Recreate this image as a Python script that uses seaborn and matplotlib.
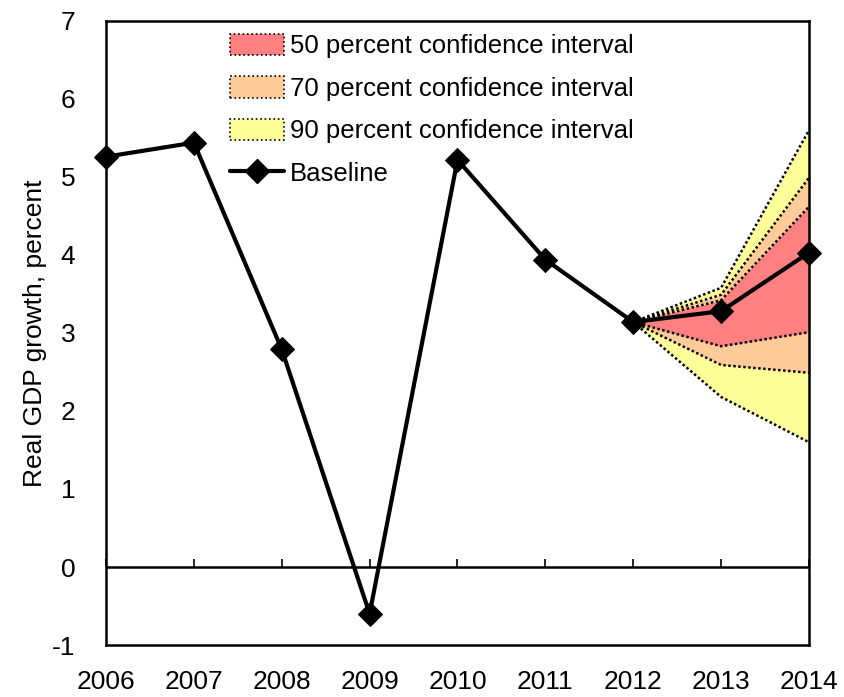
import matplotlib
matplotlib.use("Agg")
import matplotlib.pyplot as plt
from matplotlib.patches import Patch
from matplotlib.lines import Line2D
import seaborn as sns
import pandas as pd

# Baseline real GDP growth, percent
years = [2006, 2007, 2008, 2009, 2010, 2011, 2012, 2013, 2014]
baseline = [5.26, 5.44, 2.79, -0.60, 5.22, 3.94, 3.14, 3.28, 4.03]

# Forecast fan (starts from the 2012 outturn)
fan_years = [2012, 2013, 2014]
upper_90 = [3.14, 3.58, 5.60]
upper_70 = [3.14, 3.49, 4.99]
upper_50 = [3.14, 3.42, 4.62]
lower_50 = [3.14, 2.83, 3.01]
lower_70 = [3.14, 2.59, 2.49]
lower_90 = [3.14, 2.18, 1.60]

band_labels = ["50 percent confidence interval",
               "70 percent confidence interval",
               "90 percent confidence interval"]
band_colors = ["#FF8080", "#FFCC99", "#FFFF99"]

sns.set_style("white")
plt.rcParams["font.family"] = ["Liberation Sans", "DejaVu Sans"]
plt.rcParams["text.color"] = "black"
plt.rcParams["axes.labelcolor"] = "black"
plt.rcParams["xtick.color"] = "black"
plt.rcParams["ytick.color"] = "black"
plt.rcParams["axes.unicode_minus"] = False

df = pd.DataFrame({"year": years, "growth": baseline})
fan = pd.DataFrame({"year": fan_years,
                    "u90": upper_90, "u70": upper_70, "u50": upper_50,
                    "l50": lower_50, "l70": lower_70, "l90": lower_90})

fig = plt.figure(figsize=(8.44, 6.97), dpi=100)
ax = fig.add_axes([0.1256, 0.0746, 0.8329, 0.8953])

# Nested bands: widest first
for lo, hi, col in [("l90", "u90", band_colors[2]),
                    ("l70", "u70", band_colors[1]),
                    ("l50", "u50", band_colors[0])]:
    ax.fill_between(fan["year"], fan[lo], fan[hi], color=col, lw=0, zorder=1)

for col in ["u90", "u70", "u50", "l50", "l70", "l90"]:
    sns.lineplot(data=fan, x="year", y=col, ax=ax, color="black",
                 lw=1.8, ls=(0, (1, 1)), zorder=2)

ax.axhline(0, color="black", lw=1.8, zorder=2)

sns.lineplot(data=df, x="year", y="growth", ax=ax, color="black", lw=3.0,
             marker="D", markersize=12, markeredgecolor="black",
             markerfacecolor="black", zorder=3, clip_on=False)

ax.set_xlim(2006, 2014)
ax.set_ylim(-1, 7)
ax.set_xticks(years)
ax.set_xticklabels([str(y) for y in years])
ax.set_yticks(range(-1, 8))
ax.set_xlabel("")
ax.set_ylabel("Real GDP growth, percent", fontsize=19, labelpad=4)

for s in ax.spines.values():
    s.set_visible(True)
    s.set_color("black")
    s.set_linewidth(1.8)

ax.tick_params(axis="x", length=0, pad=18, labelsize=19)
ax.tick_params(axis="y", direction="in", length=7, width=1.2, pad=22, labelsize=19)

# Year tick marks sit on the zero line
sec = ax.secondary_xaxis(1 / 8)
sec.set_xticks(years)
sec.tick_params(axis="x", direction="in", length=6, width=1.2, labelbottom=False)
sec.spines["bottom"].set_visible(False)
sec.set_xticklabels([])

handles = [Patch(facecolor=c, edgecolor="black", linestyle=":", linewidth=1.2)
           for c in band_colors]
handles.append(Line2D([0], [0], color="black", lw=3.0, marker="D", markersize=12))
labels = band_labels + ["Baseline"]
ax.legend(handles, labels, loc="upper left", bbox_to_anchor=(0.158, 1.0),
          frameon=False, fontsize=18.5, handlelength=2.1, handleheight=0.9,
          handletextpad=0.25, labelspacing=0.7, borderaxespad=0.1)

fig.savefig("out.png", dpi=100)
